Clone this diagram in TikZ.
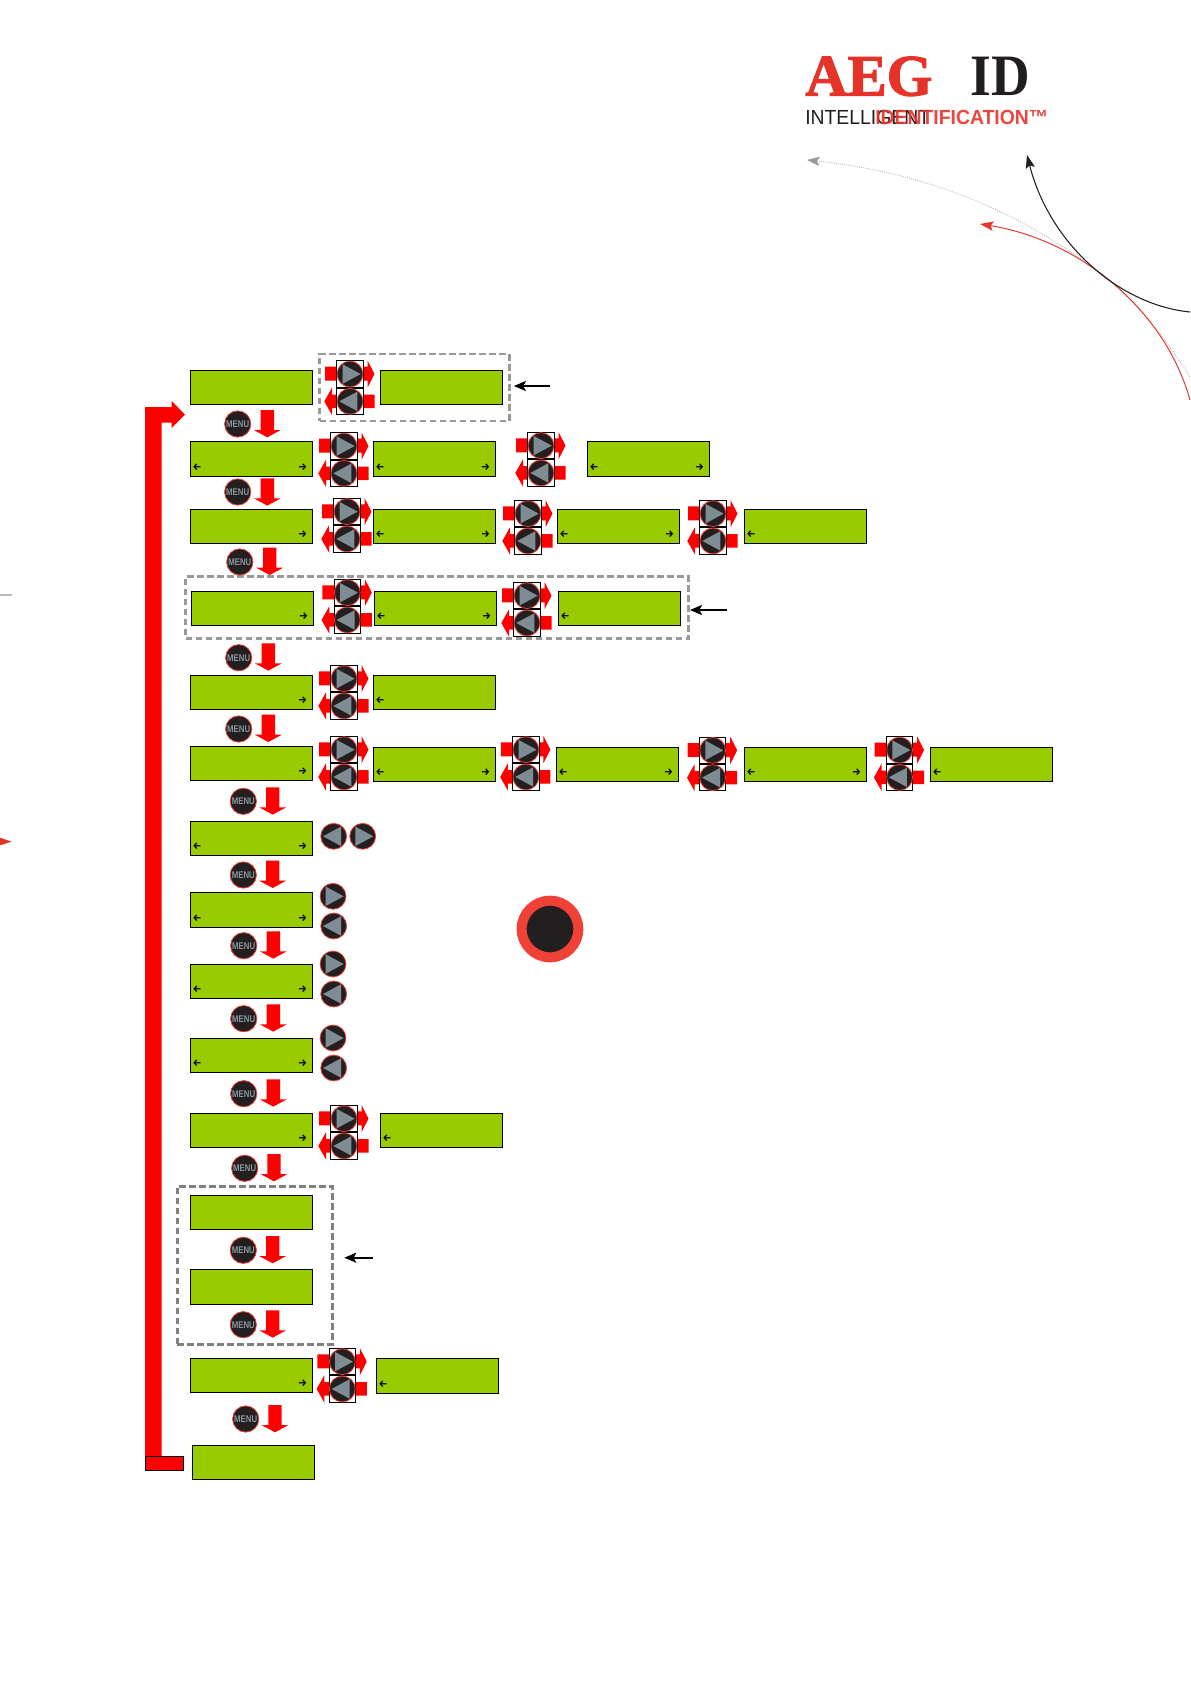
\documentclass[tikz,border=0pt]{standalone}
\usepackage{fontspec}
\usepackage{graphicx}
\usetikzlibrary{arrows.meta,calc}
\newfontfamily\arrowfont{Fira Sans}
\newfontfamily\aegfont[BoldFeatures={FakeBold=2}]{Liberation Serif}
\newfontfamily\idfont{Liberation Serif}
\newfontfamily\logofont{Liberation Sans}
\definecolor{lcdgreen}{HTML}{99CC00}
\definecolor{keyred}{HTML}{FF0000}
\definecolor{aegred}{HTML}{E6332A}
\definecolor{ringred}{HTML}{EF4136}
\definecolor{keyblack}{HTML}{231F20}
\definecolor{keygrey}{HTML}{7F8C94}
\definecolor{dashgrey}{HTML}{999999}
\tikzset{
  lcdbox/.style={draw=black,line width=.8pt,fill=lcdgreen,anchor=north west,inner sep=0,minimum width=91.2pt,minimum height=25.2pt},
  glyph/.style={inner sep=0,text=black,font=\arrowfont\bfseries\fontsize{7.5pt}{7.5pt}\selectfont},
  keyframe/.style={draw=black,line width=.75pt,fill=white,inner sep=0,minimum width=19.9pt,minimum height=19.9pt},
  keycirc/.style={circle,draw=ringred,line width=.6pt,fill=keyblack,inner sep=0,minimum size=19.4pt},
  menukey/.style={circle,draw=ringred,line width=.6pt,fill=keyblack,inner sep=0,minimum size=19.7pt,text=keygrey!90!white,font=\logofont\bfseries\fontsize{7.3pt}{7.3pt}\selectfont},
  keytri/.style={fill=keygrey},
  redarrow/.style={fill=keyred},
  dashbox/.style={draw=dashgrey,line width=2pt,dash pattern=on 4.9pt off 2.6pt,anchor=north west,inner sep=0},
  pointer/.style={draw=black,line width=1.5pt,-{Stealth[length=9pt,width=7.5pt,inset=2pt]}},
}
\newcommand{\lcd}[4][]{\node[lcdbox,#1] (#2) at (#3,#4) {};}
\newcommand{\markL}[1]{\node[glyph] (#1-l) at ([shift={(6.7,-10.2)}]#1.south west) {←};}
\newcommand{\markR}[1]{\node[glyph] (#1-r) at ([shift={(-10.3,-10.2)}]#1.south east) {→};}
\newcommand{\keytriangle}[1]{\fill[keytri] (#1*-7.3,-9.7) -- (#1*10.7,0) -- (#1*-7.3,9.7) -- cycle;}
\newcommand{\onekey}[4]{\begin{scope}[shift={(#2,#3)}]
  \node[keycirc] (#1) at (0,0) {};
  \keytriangle{#4}
\end{scope}}
\newcommand{\keypair}[3]{\begin{scope}[shift={(#2,#3)}]
  \fill[redarrow] (-25,-21) -- (17.5,-21) -- (17.5,-27.3) -- (24.5,-13.7) -- (17.5,0) -- (17.5,-7) -- (-25,-7) -- cycle;
  \fill[redarrow] (24.5,20.3) -- (-18,20.3) -- (-18,27.3) -- (-25.7,13.7) -- (-18,0) -- (-18,6.8) -- (24.5,6.8) -- cycle;
  \node[keyframe] (#1-tf) at (0,-13.65) {};
  \node[keyframe] (#1-bf) at (0,13.65) {};
  \node[keycirc] (#1-t) at (0,-13.65) {};
  \node[keycirc] (#1-b) at (0,13.65) {};
  \begin{scope}[shift={(0,-13.65)}]\keytriangle{1}\end{scope}
  \begin{scope}[shift={(0,13.65)}]\keytriangle{-1}\end{scope}
\end{scope}}
\newcommand{\menudown}[5]{%
  \node[menukey] (#1) at (#2,#3) {\scalebox{.8}[1]{MENU}};
  \begin{scope}[shift={(#4,#5)}]
    \fill[redarrow] (-6.7,0) -- (6.7,0) -- (6.7,20) -- (13.5,20) -- (0,27.3) -- (-13.5,20) -- (-6.7,20) -- cycle;
  \end{scope}}
\begin{document}
\begin{tikzpicture}[x=.75pt,y=-.75pt]
\useasboundingbox (0,0) rectangle (1190,1684);
\fill[white] (0,0) rectangle (1190,1684);
% logo
\node[anchor=base west,inner sep=0,text=aegred,font=\aegfont\bfseries\fontsize{44pt}{44pt}\selectfont] (aeg) at (805,95.5) {AEG};
\node[anchor=base west,inner sep=0,text=keyblack,font=\idfont\bfseries\fontsize{44pt}{44pt}\selectfont] (idlogo) at (970,95.5) {\scalebox{.91}[1]{ID}};
\node[anchor=base west,inner sep=0,text=keyblack,font=\logofont\fontsize{15.3pt}{15.3pt}\selectfont] (intelli) at (805,124) {\scalebox{.95}[1]{INTELLIGENT}};
\node[anchor=base west,inner sep=0,text=aegred,text opacity=.9,font=\logofont\bfseries\fontsize{15.3pt}{15.3pt}\selectfont] (identif) at (875,124) {\scalebox{.95}[1]{IDENTIFICATION™}};
% swooshes
\coordinate (gstart) at (1190,377); \coordinate (gmid) at (1093,268); \coordinate (gend) at (807,160);
\coordinate (bstart) at (1190,312); \coordinate (bend) at (1027,155);
\coordinate (rstart) at (1190,400); \coordinate (rend) at (980,224);
\draw[draw=black!35,line width=.6pt,densely dotted,-{Stealth[length=9.5pt,width=7pt,inset=2pt,color=black!40]}] (gstart) .. controls (1160,330) and (1130,295) .. (gmid) .. controls (1040,228) and (950,175) .. (gend);
\draw[draw=aegred,line width=.7pt,-{Stealth[length=10pt,width=7pt,inset=2pt]}] (rstart) .. controls (1165,310) and (1080,240) .. (rend);
\draw[draw=keyblack,line width=.8pt,-{Stealth[length=10pt,width=7pt,inset=2pt]}] (bstart) .. controls (1120,305) and (1050,245) .. (bend);
% cut-off fragments at the left edge
\fill[black!28] (0,594.3) rectangle (12,595.8);
\fill[aegred] (0,837.7) -- (11.7,841.7) -- (0,845.3) -- cycle;
% dashed boxes
\node[dashbox,minimum width=142.2pt,minimum height=50.2pt] (box1) at (318.3,352.7) {};
\node[dashbox,minimum width=377.25pt,minimum height=46.5pt] (box2) at (184.3,575.3) {};
\node[dashbox,draw=black!50,minimum width=116.5pt,minimum height=118.5pt] (box3) at (176,1185) {};
% big return arrow
\fill[keyred] (145,1457) -- (145,407) -- (171.7,407) -- (171.7,401) -- (185,414.7) -- (171.7,428) -- (171.7,422.7) -- (161.7,422.7) -- (161.7,1457) -- cycle;
\draw[fill=keyred,draw=black,line width=.6pt] (145,1456.3) rectangle (183.7,1470.7);
% displays
\lcd{r1a}{190.3}{370.3}
\lcd{r1b}{380.3}{370.3}
\lcd[minimum height=26pt]{r2a}{190.3}{441.3}\markL{r2a}\markR{r2a}
\lcd[minimum height=26pt]{r2b}{373.3}{441.3}\markL{r2b}\markR{r2b}
\lcd[minimum height=26pt]{r2c}{587.3}{441.3}\markL{r2c}\markR{r2c}
\lcd{r3a}{190.3}{509.3}\markR{r3a}
\lcd{r3b}{373.3}{509.3}\markL{r3b}\markR{r3b}
\lcd{r3c}{557.3}{509.3}\markL{r3c}\markR{r3c}
\lcd{r3d}{744.3}{509.3}\markL{r3d}
\lcd{r4a}{191.3}{591.3}\markR{r4a}
\lcd{r4b}{374.3}{591.3}\markL{r4b}\markR{r4b}
\lcd{r4c}{558.3}{591.3}\markL{r4c}
\lcd{r5a}{190.3}{675.3}\markR{r5a}
\lcd{r5b}{373.3}{675.3}\markL{r5b}
\lcd{r6a}{190.3}{746.3}\markR{r6a}
\lcd{r6b}{373.3}{747.3}\markL{r6b}\markR{r6b}
\lcd{r6c}{556.3}{747.3}\markL{r6c}\markR{r6c}
\lcd{r6d}{744.3}{747.3}\markL{r6d}\markR{r6d}
\lcd{r6e}{930.3}{747.3}\markL{r6e}
\lcd{r7a}{190.3}{821.3}\markL{r7a}\markR{r7a}
\lcd[minimum height=26pt]{r8a}{190.3}{892.3}\markL{r8a}\markR{r8a}
\lcd{r9a}{190.3}{964.3}\markL{r9a}\markR{r9a}
\lcd{r10a}{190.3}{1038.3}\markL{r10a}\markR{r10a}
\lcd{r11a}{190.3}{1113.3}\markR{r11a}
\lcd{r11b}{380.3}{1113.3}\markL{r11b}
\lcd{r12a}{190.3}{1195.3}
\lcd[minimum height=26pt]{r13a}{190.3}{1269.3}
\lcd{r14a}{190.3}{1358.3}\markR{r14a}
\lcd[minimum height=26pt]{r14b}{376.3}{1358.3}\markL{r14b}
\lcd{r15a}{192.3}{1445.3}
% key pairs
\keypair{p1}{350}{387.7}
\keypair{p2a}{344}{459.7}
\keypair{p2b}{541}{459.3}
\keypair{p3a}{347}{525.3}
\keypair{p3b}{528}{527.3}
\keypair{p3c}{713}{527.3}
\keypair{p4a}{347.3}{606.3}
\keypair{p4b}{527}{609.3}
\keypair{p5a}{344}{692.3}
\keypair{p6a}{344}{763.3}
\keypair{p6b}{525.9}{763.3}
\keypair{p6c}{712.7}{764}
\keypair{p6d}{899.6}{763.7}
\keypair{p11}{344}{1132.3}
\keypair{p14}{342.3}{1375.3}
% single keys
\onekey{k7l}{333.7}{836.3}{-1}
\onekey{k7r}{362.7}{836.3}{1}
\onekey{k8r}{333}{896.3}{1}
\onekey{k8l}{333.7}{926}{-1}
\onekey{k9r}{333}{964}{1}
\onekey{k9l}{333.7}{994}{-1}
\onekey{k10r}{333}{1038}{1}
\onekey{k10l}{333.7}{1068}{-1}
% menu keys with down arrows
\menudown{m1}{237.7}{424}{267.3}{410}
\menudown{m2}{237.7}{492}{267.3}{478.3}
\menudown{m3}{239.8}{562}{269.7}{547.7}
\menudown{m4}{238.7}{657.7}{268.3}{643.3}
\menudown{m5}{238.7}{729}{268.3}{714.7}
\menudown{m6}{243.3}{801.3}{272.7}{787.3}
\menudown{m7}{243.3}{875}{272.7}{860.7}
\menudown{m8}{243.7}{945.7}{273.3}{931.3}
\menudown{m9}{243.7}{1018.7}{273.3}{1004.3}
\menudown{m10}{243.7}{1093.7}{273.3}{1079.3}
\menudown{m11}{244.7}{1168.3}{274}{1154}
\menudown{m12}{243.3}{1250.3}{272.7}{1236}
\menudown{m13}{243.3}{1324.7}{272.7}{1310.3}
\menudown{m14}{245.7}{1419}{275}{1405}
% big button
\node[circle,draw=ringred,line width=7.5pt,fill=keyblack,inner sep=0,minimum size=42.5pt] (bigkey) at (550,929) {};
% pointers
\coordinate (a1) at (550,386);
\coordinate (a2) at (726.7,610);
\coordinate (a3) at (372.7,1257.7);
\draw[pointer,shorten >=2.5pt] (a1) -- (box1.east |- a1);
\draw[pointer] (a2) -- (box2.east |- a2);
\draw[pointer,shorten >=7.7pt] (a3) -- (box3.east |- a3);
\end{tikzpicture}
\end{document}
